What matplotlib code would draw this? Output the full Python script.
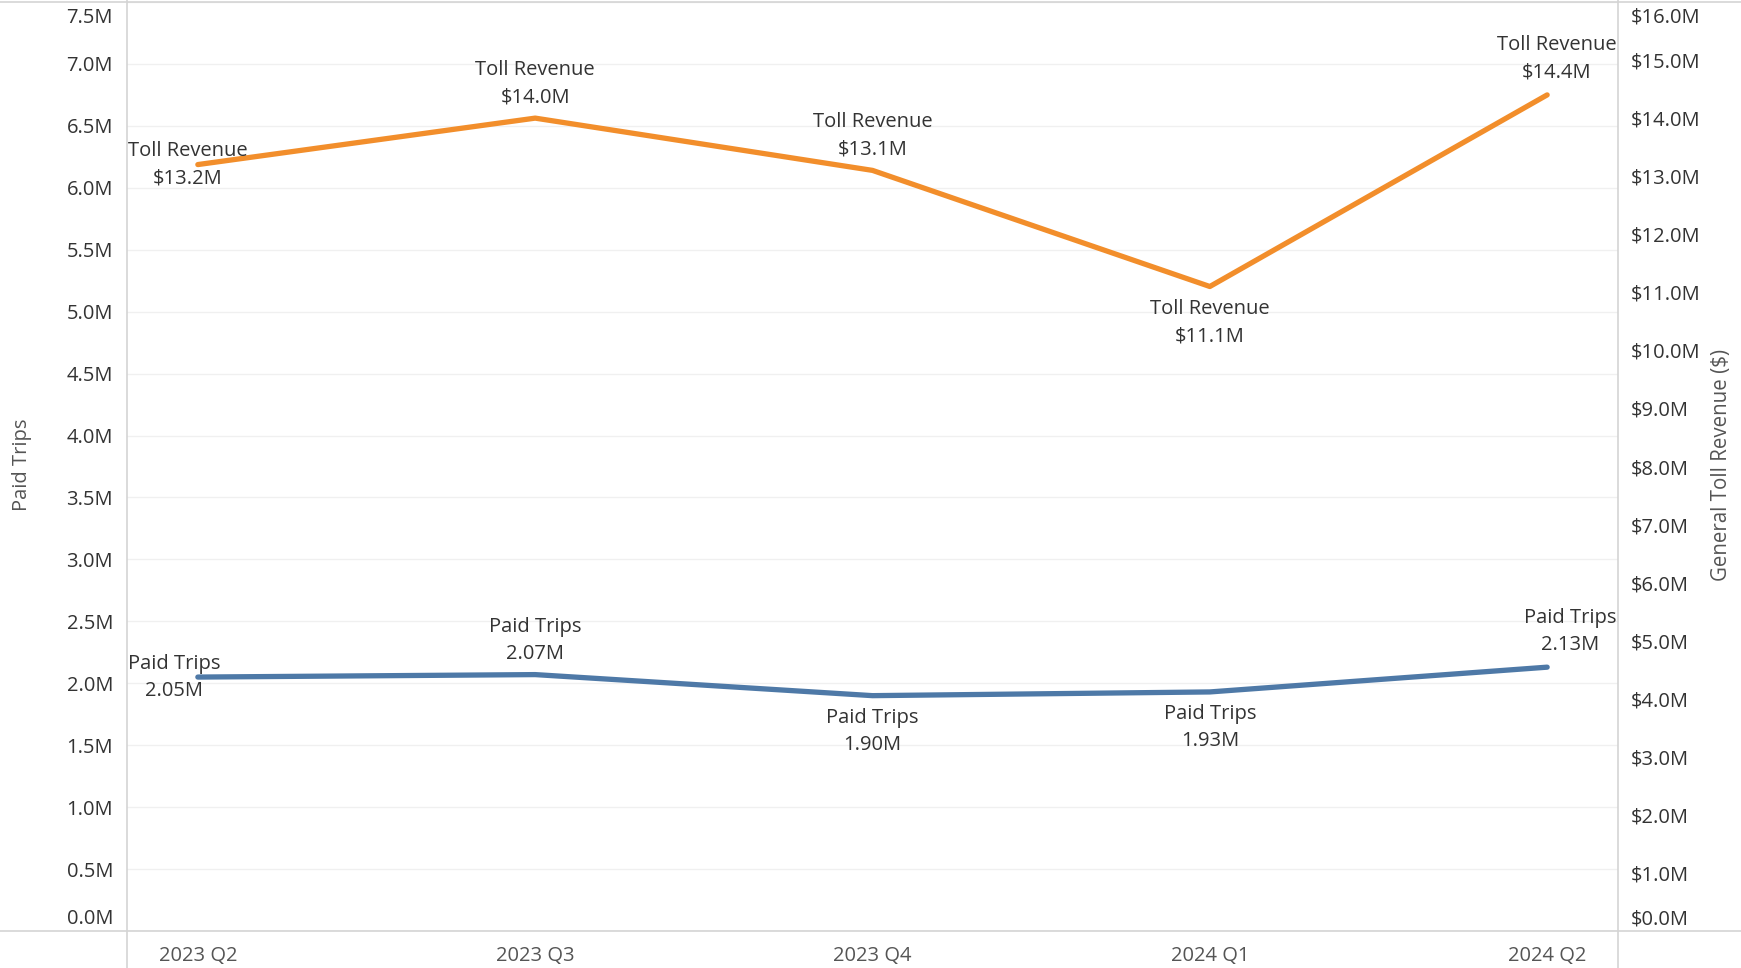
import matplotlib
matplotlib.use("Agg")
import matplotlib.pyplot as plt
from matplotlib.lines import Line2D
import matplotlib.transforms as mtransforms

quarters = ["2023 Q2", "2023 Q3", "2023 Q4", "2024 Q1", "2024 Q2"]
paid_trips_m = [2.05, 2.07, 1.90, 1.93, 2.13]
toll_revenue_m = [13.2, 14.0, 13.1, 11.1, 14.4]
left_ticks = [0.0, 0.5, 1.0, 1.5, 2.0, 2.5, 3.0, 3.5, 4.0, 4.5, 5.0, 5.5, 6.0, 6.5, 7.0, 7.5]
right_ticks = list(range(0, 17))

# label placement per point: 'above', 'below', 'first', 'last'
toll_pos = ["first", "above", "above", "below", "last"]
trip_pos = ["first", "above", "below", "below", "last"]

FONT = "Open Sans"
plt.rcParams['font.family'] = [FONT, 'DejaVu Sans']
FS = 14.5

W, H = 1741, 968
fig = plt.figure(figsize=(W / 100, H / 100), dpi=100)
L, R, B, T = 127, 1618, 931, 2
ax = fig.add_axes([L / W, (H - B) / H, (R - L) / W, (B - T) / H])
ax2 = ax.twinx()

orange = "#F28E2B"
blue = "#4E79A7"
x = list(range(len(quarters)))

ax.plot(x, paid_trips_m, color=blue, lw=3.8, solid_capstyle='round', zorder=3)
ax2.plot(x, toll_revenue_m, color=orange, lw=3.8, solid_capstyle='round', zorder=3)

ax.set_xlim(-0.21, len(quarters) - 1 + 0.21)
ax.set_ylim(0, 7.5)
ax2.set_ylim(0, 16)

ax.set_yticks(left_ticks)
ax.set_yticklabels([f"{v:.1f}M" for v in left_ticks])
ax2.set_yticks(right_ticks)
ax2.set_yticklabels([f"${v:.1f}M" for v in right_ticks])
ax.set_xticks(x)
ax.set_xticklabels(quarters)

for a in (ax, ax2):
    for s in a.spines.values():
        s.set_visible(False)

ax.grid(axis='y', color="#f0f0f0", lw=1)
ax.set_axisbelow(True)
ax.tick_params(axis='y', length=0, pad=10, labelsize=FS, labelcolor="#333333")
ax2.tick_params(axis='y', length=0, pad=9, labelsize=FS, labelcolor="#333333")
ax.tick_params(axis='x', length=0, pad=11, labelsize=FS, labelcolor="#555555")

# edge tick label shifts like Tableau
for labels in (ax.get_yticklabels(), ax2.get_yticklabels()):
    labels[0].set_transform(labels[0].get_transform() +
                            mtransforms.ScaledTranslation(0, 14 / 100, fig.dpi_scale_trans))
    labels[-1].set_transform(labels[-1].get_transform() +
                             mtransforms.ScaledTranslation(0, -13.5 / 100, fig.dpi_scale_trans))

fig.text(22 / W, 1 - 465 / H, "Paid Trips", rotation=90, ha='center', va='center',
         fontsize=14.5, color="#555555")
fig.text(1721 / W, 1 - 465 / H, "General Toll Revenue ($)", rotation=90, ha='center', va='center',
         fontsize=14.8, color="#555555")

# frame lines
line_c = "#d4d4d4"
fig.add_artist(Line2D([0, 1], [1 - T / H, 1 - T / H], color=line_c, lw=1.2, transform=fig.transFigure))
fig.add_artist(Line2D([0, 1], [1 - B / H, 1 - B / H], color=line_c, lw=1.2, transform=fig.transFigure))
fig.add_artist(Line2D([L / W, L / W], [0, 1], color=line_c, lw=1.2, transform=fig.transFigure))
fig.add_artist(Line2D([R / W, R / W], [0, 1], color=line_c, lw=1.2, transform=fig.transFigure))


def label(axis, xi, yv, name, val, pos):
    txt = f"{name}\n{val}"
    kw = dict(textcoords='offset pixels', fontsize=FS, color="#333333",
              linespacing=1.47, multialignment='center', zorder=5)
    if pos == "above":
        axis.annotate(txt, (xi, yv), xytext=(0, 34.5), ha='center', va='center', **kw)
    elif pos == "below":
        axis.annotate(txt, (xi, yv), xytext=(0, -36), ha='center', va='center', **kw)
    elif pos == "first":
        axis.annotate(txt, (xi, yv), xytext=(-70, 0), ha='left', va='center', **kw)
    else:
        axis.annotate(txt, (xi, yv), xytext=(69, 36), ha='right', va='center', **kw)


for i in x:
    label(ax2, i, toll_revenue_m[i], "Toll Revenue", f"${toll_revenue_m[i]:.1f}M", toll_pos[i])
    label(ax, i, paid_trips_m[i], "Paid Trips", f"{paid_trips_m[i]:.2f}M", trip_pos[i])

fig.savefig("out.png", dpi=100)
